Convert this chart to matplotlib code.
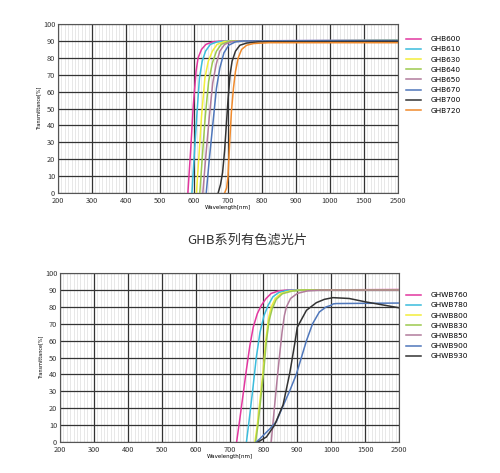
import numpy as np
import matplotlib
matplotlib.use("Agg")
import matplotlib.pyplot as plt

plt.rcParams['font.family'] = ['Noto Sans CJK SC', 'DejaVu Sans']

# x axis: labelled wavelengths are equally spaced on the chart
x_ticks = [200, 300, 400, 500, 600, 700, 800, 900, 1000, 1500, 2500]
y_ticks = list(range(0, 101, 10))

# ---- top chart (GHB series) ----
ghb_names = ['GHB600', 'GHB610', 'GHB630', 'GHB640', 'GHB650', 'GHB670', 'GHB700', 'GHB720']
ghb_colors = ['#e2379f', '#3bbcdc', '#f2ee3a', '#9cc94e', '#b27c9c', '#4f77bb', '#333333', '#f08a2c']
ghb_wl = [
    [582, 590, 598, 606, 612, 622, 635, 655, 680, 2500],
    [594, 600, 608, 616, 624, 634, 648, 668, 695, 2500],
    [607, 614, 622, 632, 642, 654, 668, 690, 715, 2500],
    [617, 624, 633, 643, 654, 666, 680, 700, 725, 2500],
    [626, 634, 645, 655, 665, 676, 690, 710, 735, 2500],
    [636, 645, 656, 666, 676, 688, 702, 722, 745, 2500],
    [671, 678, 684, 690, 695, 700, 706, 712, 722, 735, 755, 790, 2500],
    [690, 696, 700, 705, 710, 716, 722, 730, 740, 755, 775, 820, 2500],
]
ghb_t = [
    [0, 25, 52, 72, 80, 85, 88, 89.5, 90, 90.5],
    [0, 20, 45, 68, 78, 84, 88, 89.5, 90, 90.5],
    [0, 20, 45, 68, 78, 84, 88, 89.7, 90, 90.3],
    [0, 20, 45, 66, 77, 84, 88, 89.6, 90, 90],
    [0, 20, 45, 65, 76, 84, 88, 89.6, 90, 90],
    [0, 20, 42, 62, 74, 83, 87.5, 89.5, 90, 90.2],
    [0, 5, 12, 25, 40, 55, 70, 78, 84, 87.5, 88.8, 89.5, 89.8],
    [0, 3, 10, 30, 48, 62, 72, 80, 85, 87.5, 88.5, 89, 89],
]

# ---- bottom chart (GHWB series) ----
ghwb_names = ['GHWB760', 'GHWB780', 'GHWB800', 'GHWB830', 'GHWB850', 'GHWB900', 'GHWB930']
ghwb_colors = ['#e2379f', '#3bbcdc', '#f2ee3a', '#9cc94e', '#b27c9c', '#4f77bb', '#333333']
ghwb_wl = [
    [721, 730, 740, 750, 760, 770, 782, 794, 808, 823, 845, 870, 2500],
    [750, 758, 768, 779, 790, 802, 814, 828, 845, 870, 900, 2500],
    [775, 782, 790, 799, 807, 815, 823, 835, 852, 880, 910, 2500],
    [777, 784, 792, 801, 809, 817, 826, 838, 856, 885, 915, 2500],
    [823, 830, 838, 847, 855, 862, 868, 880, 900, 930, 970, 2500],
    [779, 790, 805, 820, 838, 855, 877, 897, 912, 927, 945, 965, 985, 1000, 1030, 1074, 2500],
    [784, 809, 833, 858, 878, 893, 900, 927, 956, 980, 1025, 1265, 1510, 2500],
]
ghwb_t = [
    [0, 13, 28, 43, 57, 68, 76, 81, 85, 88, 89.5, 90, 90.3],
    [0, 13, 30, 50, 65, 75, 81, 86, 88.5, 89.8, 90, 90],
    [0, 10, 25, 42, 60, 73, 80, 85, 88, 89.5, 90, 90],
    [0, 10, 25, 42, 60, 72, 79, 84.5, 87.8, 89.4, 90, 90],
    [0, 15, 32, 50, 65, 75, 80, 85, 88, 89.5, 90, 90],
    [0, 2, 5, 8, 12, 20, 30, 40, 50, 60, 70, 77, 80, 81, 81.8, 82, 82.3],
    [0, 3, 10, 22, 41, 59, 68, 78, 82.5, 84.5, 85.5, 85, 83, 79.5],
]

pos = np.arange(len(x_ticks), dtype=float)


def fwd(x):
    return np.interp(x, x_ticks, pos, left=-1, right=len(x_ticks))


def inv(p):
    return np.interp(p, pos, x_ticks)


# minor gridlines: 10 subdivisions per labelled interval
minor = []
for a, b in zip(x_ticks[:-1], x_ticks[1:]):
    minor += list(np.linspace(a, b, 11)[1:-1])


def draw(ax, names, colors, wls, ts, legend_top):
    ax.set_xscale('function', functions=(fwd, inv))
    ax.set_xlim(200, 2500)
    ax.set_ylim(0, 100)
    ax.set_xticks(x_ticks)
    ax.set_xticklabels([str(v) for v in x_ticks])
    ax.set_xticks(minor, minor=True)
    ax.set_yticks(y_ticks)
    ax.grid(True, which='major', color='#333333', lw=0.9)
    ax.grid(True, which='minor', axis='x', color='#dedede', lw=0.5)
    ax.set_axisbelow(True)
    ax.tick_params(which='both', length=0, labelsize=5.3, colors='#333333')
    ax.tick_params(axis='x', pad=3)
    ax.tick_params(axis='y', pad=2)
    for s in ax.spines.values():
        s.set_color('#555555')
        s.set_linewidth(0.8)
    ax.set_xlabel('Wavelength[nm]', fontsize=4, labelpad=0, family='DejaVu Sans')
    ax.set_ylabel('Transmittance[%]', fontsize=3.5, labelpad=1, family='DejaVu Sans')
    for n, c, w, t in zip(names, colors, wls, ts):
        ax.plot(w, t, color=c, lw=1.1, label=n)
    fig.legend(loc='upper left', bbox_to_anchor=(406 / 500, 1 - legend_top / 473),
               handles=ax.get_lines(), frameon=False,
               handlelength=2.0, handletextpad=1.4, labelspacing=0.55,
               borderaxespad=0, borderpad=0, prop={'family': 'DejaVu Sans', 'size': 5.3})


fig = plt.figure(figsize=(5.0, 4.73), dpi=100)
ax1 = fig.add_axes([0.116, 0.592, 0.680, 0.357])
ax2 = fig.add_axes([0.120, 0.0655, 0.678, 0.357])
draw(ax1, ghb_names, ghb_colors, ghb_wl, ghb_t, 36)
draw(ax2, ghwb_names, ghwb_colors, ghwb_wl, ghwb_t, 292)

fig.text(0.495, 1 - 240 / 473, 'GHB系列有色滤光片', ha='center', va='center',
         fontsize=9.5, color='#333333')

fig.savefig('out.png', dpi=100)
